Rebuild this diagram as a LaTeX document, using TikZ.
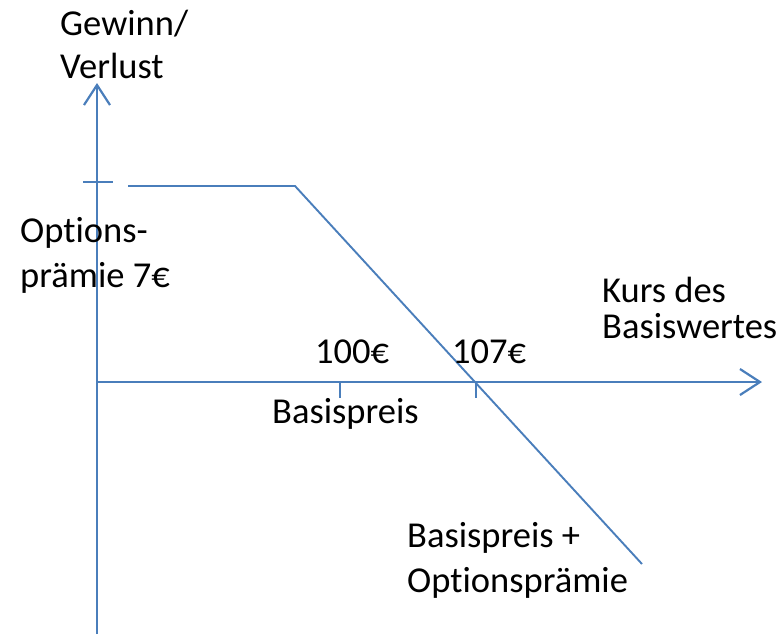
\documentclass[tikz,border=0pt]{standalone}
\usepackage{fontspec}
\setmainfont{Carlito}[Ligatures={NoCommon}]
\usetikzlibrary{arrows.meta}
\definecolor{lineblue}{HTML}{4A7EBB}
\begin{document}
\begin{tikzpicture}[x=1pt,y=-1pt,
  axis/.style={draw=lineblue,line width=2.2pt,-{Straight Barb[length=20pt,width=26pt,line width=2.2pt]}},
  curve/.style={draw=lineblue,line width=1.9pt},
  tick/.style={draw=lineblue,line width=1.9pt},
  lbl/.style={anchor=base west,inner sep=0pt,align=left,font=\fontsize{36.5}{44}\selectfont},
  lead/.style={font=\fontsize{36.5}{#1}\selectfont}]
  \useasboundingbox (0,0) rectangle (784,638);
  % axes
  \coordinate (yb) at (97,634);
  \coordinate (yt) at (97,83);
  \coordinate (xl) at (97,382);
  \coordinate (xr) at (762,382);
  \draw[axis] (yb) -- (yt);
  \draw[axis] (xl) -- (xr);
  % premium tick on the vertical axis
  \coordinate (pl) at (83,182);
  \coordinate (pr) at (113,182);
  \draw[tick] (pl) -- (pr);
  % ticks on the horizontal axis
  \coordinate (t1a) at (340,382);
  \coordinate (t1b) at (340,398);
  \coordinate (t2a) at (476,382);
  \coordinate (t2b) at (476,398);
  \draw[tick] (t1a) -- (t1b);
  \draw[tick] (t2a) -- (t2b);
  % payoff line
  \coordinate (c1) at (128,186);
  \coordinate (c2) at (295,186);
  \coordinate (c3) at (642,564);
  \draw[curve] (c1) -- (c2) -- (c3);
  % labels (multi-line labels are placed by the baseline of their last line)
  \node[lbl,lead=43] (gv) at (60,78) {Gewinn/\\Verlust};
  \node[lbl,lead=45] (op) at (20,287) {Options-\\prämie 7€};
  \node[lbl] (k100) at (315,363) {100€};
  \node[lbl] (k107) at (452,363) {107€};
  \node[lbl] (bp) at (272,423) {Basispreis};
  \node[lbl,lead=36] (kb) at (602,338) {Kurs des\\Basiswertes};
  \node[lbl,lead=45] (bo) at (407,592) {Basispreis +\\Optionsprämie};
\end{tikzpicture}
\end{document}
